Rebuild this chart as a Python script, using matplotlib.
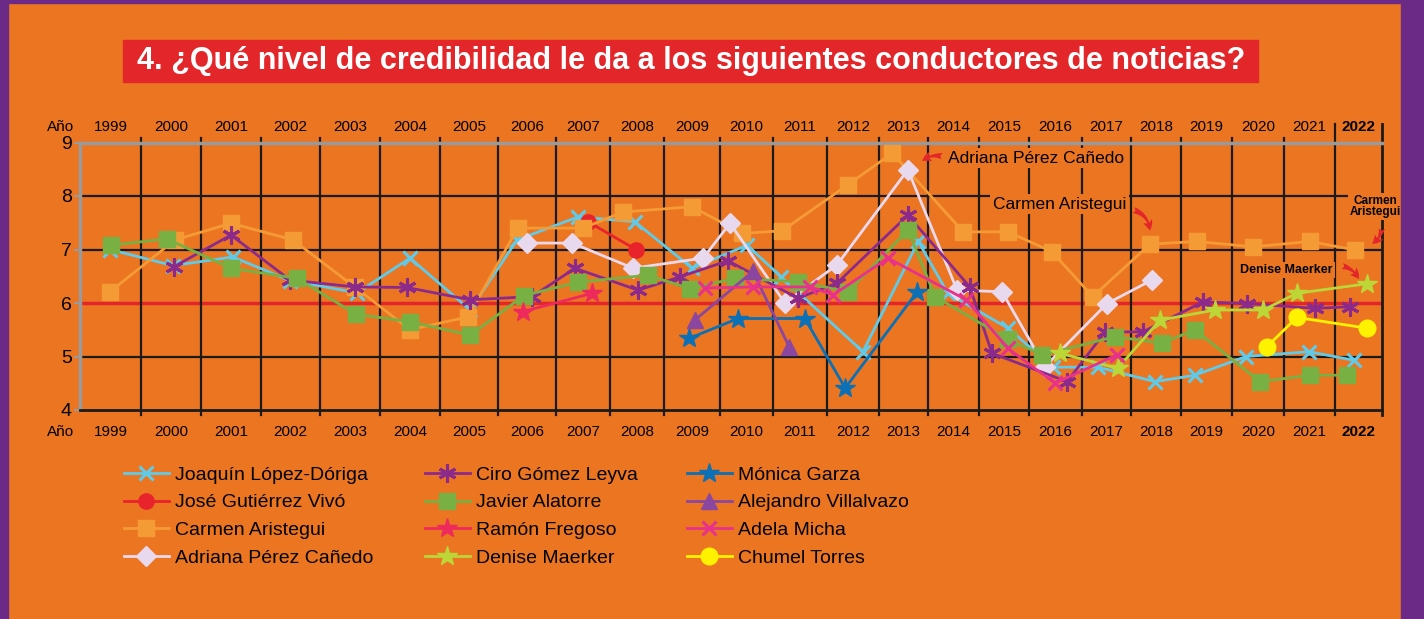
import numpy as np
import matplotlib
matplotlib.use("Agg")
import matplotlib.pyplot as plt
import matplotlib.transforms as mtransforms
from matplotlib.patches import Rectangle

plt.rcParams['font.family'] = ['Liberation Sans', 'DejaVu Sans']

# ---- data (x = survey date as fractional year, y = credibility score) ----
years = list(range(1999, 2023))

lopez_x = [1999.49, 2000.53, 2001.53, 2002.49, 2003.62, 2004.5, 2005.52, 2006.33, 2007.41, 2008.46,
           2009.5, 2010.51, 2011.15, 2012.69, 2013.8, 2014.39, 2015.58, 2016.45, 2017.33, 2018.48,
           2019.27, 2020.27, 2021.49, 2022.4]
lopez_y = [7.0, 6.7, 6.86, 6.42, 6.19, 6.84, 5.87, 7.18, 7.61, 7.52,
           6.65, 7.08, 6.49, 5.09, 7.15, 6.18, 5.53, 4.8, 4.8, 4.53,
           4.65, 5.0, 5.09, 4.93]

gutierrez_x = [2007.59, 2008.48]
gutierrez_y = [7.52, 7.0]

aristegui_x = [1999.49, 2000.57, 2001.5, 2002.54, 2003.58, 2004.5, 2005.48, 2006.34, 2007.5, 2008.24,
               2009.5, 2010.42, 2011.17, 2012.4, 2013.27, 2014.69, 2015.58, 2016.43, 2017.22, 2018.38,
               2019.31, 2020.4, 2021.51, 2022.43]
aristegui_y = [6.21, 7.18, 7.49, 7.18, 6.3, 5.5, 5.74, 7.4, 7.4, 7.7,
               7.8, 7.3, 7.35, 8.21, 8.8, 7.33, 7.33, 6.96, 6.12, 7.1,
               7.15, 7.05, 7.15, 6.99]

perez_x = [2006.5, 2007.3, 2008.43, 2009.7, 2010.19, 2011.22, 2012.19, 2013.59, 2014.57, 2015.46,
           2016.3, 2017.51, 2018.42]
perez_y = [7.12, 7.12, 6.65, 6.84, 7.49, 6.0, 6.71, 8.49, 6.24, 6.21,
           4.81, 5.99, 6.43]

gomez_x = [2000.55, 2001.5, 2002.49, 2003.58, 2004.45, 2005.52, 2006.59, 2007.35, 2008.52, 2009.29,
           2010.15, 2011.46, 2012.19, 2013.59, 2014.82, 2015.26, 2016.72, 2017.47, 2018.24, 2019.43,
           2020.29, 2021.61, 2022.32]
gomez_y = [6.68, 7.27, 6.43, 6.3, 6.29, 6.06, 6.12, 6.65, 6.24, 6.49,
           6.79, 6.09, 6.37, 7.64, 6.3, 5.06, 4.53, 5.46, 5.46, 6.02,
           5.99, 5.9, 5.93]

alatorre_x = [1999.51, 2000.43, 2001.5, 2002.61, 2003.6, 2004.5, 2005.52, 2006.45, 2007.41, 2008.7,
              2009.46, 2010.28, 2011.46, 2012.4, 2013.59, 2014.14, 2015.58, 2016.25, 2017.67, 2018.62,
              2019.27, 2020.54, 2021.51, 2022.26]
alatorre_y = [7.08, 7.2, 6.65, 6.46, 5.79, 5.65, 5.4, 6.14, 6.39, 6.52,
              6.27, 6.46, 6.4, 6.21, 7.36, 6.12, 5.32, 5.03, 5.37, 5.25,
              5.5, 4.53, 4.65, 4.65]

fregoso_x = [2006.43, 2007.67]
fregoso_y = [5.84, 6.18]

maerker_x = [2016.58, 2017.73, 2018.58, 2019.67, 2020.6, 2021.25, 2022.68]
maerker_y = [5.06, 4.78, 5.68, 5.87, 5.87, 6.18, 6.36]

garza_x = [2009.45, 2010.34, 2011.59, 2012.35, 2013.78]
garza_y = [5.34, 5.71, 5.71, 4.41, 6.21]

villalvazo_x = [2009.55, 2010.62, 2011.3]
villalvazo_y = [5.68, 6.59, 5.18]

micha_x = [2009.73, 2010.62, 2011.69, 2012.12, 2013.18, 2014.75, 2015.58, 2016.49, 2017.71]
micha_y = [6.28, 6.3, 6.3, 6.15, 6.84, 6.06, 5.15, 4.5, 5.03]

torres_x = [2020.67, 2021.25, 2022.68]
torres_y = [5.18, 5.73, 5.53]

# ---- style ----
BG = '#ec7521'
PURPLE = '#6b2a86'
RED = '#e3262a'

# column edges in pixels (the year columns are not equally wide)
col_px = [80, 141, 201, 261, 320, 380, 440, 498, 556, 610, 664, 720, 773, 827,
          879, 928, 979, 1029, 1082, 1131, 1181, 1232, 1284, 1335, 1382]
edge_years = list(range(1999, 2024))


def fwd(x):
    return np.interp(x, edge_years, col_px)


def inv(p):
    return np.interp(p, col_px, edge_years)


series = [
    ('Joaquín López-Dóriga', lopez_x, lopez_y, '#5fcbe9', 'x', 10),
    ('José Gutiérrez Vivó', gutierrez_x, gutierrez_y, '#e8232b', 'o', 11),
    ('Carmen Aristegui', aristegui_x, aristegui_y, '#f59b35', 's', 11),
    ('Adriana Pérez Cañedo', perez_x, perez_y, '#e9d9ef', 'D', 10),
    ('Ciro Gómez Leyva', gomez_x, gomez_y, '#8c2a8c', (6, 2, 0), 13),
    ('Javier Alatorre', alatorre_x, alatorre_y, '#79b043', 's', 11),
    ('Ramón Fregoso', fregoso_x, fregoso_y, '#ee2a5d', '*', 15),
    ('Denise Maerker', maerker_x, maerker_y, '#bcd637', '*', 15),
    ('Mónica Garza', garza_x, garza_y, '#0b70b5', '*', 15),
    ('Alejandro Villalvazo', villalvazo_x, villalvazo_y, '#8b47a0', '^', 11),
    ('Adela Micha', micha_x, micha_y, '#e8318a', 'x', 10),
    ('Chumel Torres', torres_x, torres_y, '#fff200', 'o', 12),
]

fig = plt.figure(figsize=(14.24, 6.19), dpi=100)
fig.patch.set_facecolor(BG)
W, H = 1424, 619

# purple frame
fig.patches.append(Rectangle((0, 0), 8 / W, 1, transform=fig.transFigure, color=PURPLE, zorder=0))
fig.patches.append(Rectangle((0, 1 - 3 / H), 1, 3 / H, transform=fig.transFigure, color=PURPLE, zorder=0))
fig.patches.append(Rectangle((1401 / W, 0), 23 / W, 1, transform=fig.transFigure, color=PURPLE, zorder=0))

# title
fig.patches.append(Rectangle((123 / W, 1 - 82 / H), 1135 / W, 42 / H, transform=fig.transFigure,
                             color=RED, zorder=1))
fig.text(691 / W, 1 - 61 / H, '4. ¿Qué nivel de credibilidad le da a los siguientes conductores de noticias?',
         color='white', fontsize=22, fontweight='bold', ha='center', va='center', zorder=2)

ax = fig.add_axes([80 / W, 1 - 410 / H, 1302 / W, 267.5 / H])
ax.set_facecolor(BG)
ax.set_xscale('function', functions=(fwd, inv))
ax.set_xlim(1999, 2023)
ax.set_ylim(4, 9)

# grid
for yy in [5, 7, 8]:
    ax.axhline(yy, color='#1a1a1a', lw=1.6, zorder=1)
ax.axhline(6, color=RED, lw=2.5, zorder=1)
for xx in edge_years[1:-2]:
    ax.axvline(xx, ymin=-0.02, ymax=1.015, color='#1a1a1a', lw=1.6, zorder=1, clip_on=False)
for xx in edge_years[-2:]:
    ax.axvline(xx, ymin=-0.02, ymax=1.07, color='#1a1a1a', lw=2 if xx == 2023 else 1.6,
               zorder=1, clip_on=False)

for s in ['top', 'left']:
    ax.spines[s].set_color('#9a9a9a')
    ax.spines[s].set_linewidth(2.5)
ax.spines['bottom'].set_color('#1a1a1a')
ax.spines['bottom'].set_linewidth(2)
ax.spines['right'].set_visible(False)

ax.set_yticks([4, 5, 6, 7, 8, 9])
ax.tick_params(axis='y', length=4, width=1.5, color='#9a9a9a', labelsize=14, pad=2)
ax.set_xticks([y + 0.5 for y in years], [str(y) for y in years])
ax.tick_params(axis='x', length=0, labelsize=11, pad=11)
ax.get_xticklabels()[-1].set_fontweight('bold')

top_tr = mtransforms.blended_transform_factory(ax.transData, ax.transAxes)
for y in years:
    ax.text(y + 0.5, 1.058, str(y), transform=top_tr, ha='center', va='center', fontsize=11,
            fontweight='bold' if y == 2022 else 'normal')
fig.text(61 / W, 1 - 127 / H, 'Año', ha='center', va='center', fontsize=11)
fig.text(61 / W, 1 - 432 / H, 'Año', ha='center', va='center', fontsize=11)

handles = []
for name, xs, ys, c, m, ms in series:
    ln, = ax.plot(xs, ys, color=c, marker=m, ms=ms, lw=2, mew=2.2 if m in ('x', (6, 2, 0)) else 1,
                  mec=c, label=name, zorder=3)
    handles.append(ln)

# annotations
box = dict(boxstyle='square,pad=0.15', fc=BG, ec='none')
ax.text(2014.39, 8.71, 'Adriana Pérez Cañedo', fontsize=12.5, ha='left', va='center', bbox=box, zorder=2)
ax.text(2015.28, 7.85, 'Carmen Aristegui', fontsize=12.5, ha='left', va='center', bbox=box, zorder=2)
ax.text(2022.85, 7.8, 'Carmen\nAristegui', fontsize=8.5, fontweight='bold', ha='center', va='center',
        linespacing=0.95, bbox=box, zorder=2, clip_on=False)
ax.text(2021.96, 6.62, 'Denise Maerker', fontsize=9, fontweight='bold', ha='right', va='center',
        bbox=box, zorder=2)

arrow = dict(arrowstyle='fancy,head_length=0.7,head_width=0.7,tail_width=0.45', color=RED, lw=0)
ax.annotate('', xy=(2013.84, 8.62), xytext=(2014.33, 8.73),
            arrowprops=dict(connectionstyle='arc3,rad=0.3', **arrow), zorder=4)
ax.annotate('', xy=(2018.38, 7.3), xytext=(2018.0, 7.75),
            arrowprops=dict(connectionstyle='arc3,rad=-0.4', **arrow), zorder=4)
ax.annotate('', xy=(2022.74, 7.08), xytext=(2023.2, 7.44), annotation_clip=False,
            arrowprops=dict(connectionstyle='arc3,rad=-0.3', **arrow), zorder=4)
ax.annotate('', xy=(2022.53, 6.4), xytext=(2022.1, 6.7),
            arrowprops=dict(connectionstyle='arc3,rad=-0.3', **arrow), zorder=4)

# legend in three columns
col_x = [124, 425, 687]
for i in range(3):
    leg = fig.legend(handles=handles[i * 4:(i + 1) * 4], loc='upper left',
                     bbox_to_anchor=(col_x[i] / W, 1 - 466 / H), frameon=False, fontsize=14,
                     handlelength=2.3, handletextpad=0.3, labelspacing=0.52, borderpad=0,
                     borderaxespad=0)

fig.savefig('out.png', dpi=100, facecolor=fig.get_facecolor())
